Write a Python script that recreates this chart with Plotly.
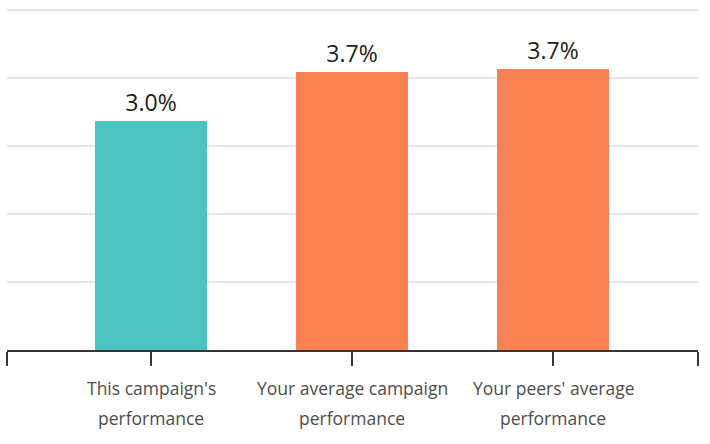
import plotly.graph_objects as go

# Campaign comparison data
categories = ["This campaign's performance",
              "Your average campaign performance",
              "Your peers' average performance"]
values = [3.02, 3.66, 3.70]
bar_colors = ["#4bc4c1", "#f98152", "#f98152"]

x_pos = list(range(len(categories)))

fig = go.Figure()
fig.add_trace(go.Bar(
    x=x_pos,
    y=values,
    width=0.562,
    marker=dict(color=bar_colors, line=dict(width=0)),
    texttemplate="%{y:.1f}%",
    textposition="outside",
    textfont=dict(size=23, color="#222222"),
    cliponaxis=False,
    hoverinfo="skip",
))

# two-line category labels, drawn as annotations for the wide line spacing
for x, label in zip(x_pos, categories):
    first, second = label.rsplit(" ", 1)
    for text, shift in ((first, -38), (second, -68)):
        fig.add_annotation(
            x=x, xref="x", y=0, yref="paper",
            text=text, showarrow=False,
            yanchor="middle", yshift=shift,
            font=dict(size=17.5, color="#4d4d4d"),
        )

fig.update_layout(
    width=710,
    height=444,
    margin=dict(l=7, r=12, t=5, b=94),
    plot_bgcolor="white",
    paper_bgcolor="white",
    font=dict(family="Open Sans", color="#222222"),
    showlegend=False,
    bargap=0,
)
fig.update_xaxes(
    range=[-0.7164, 2.7214],
    tickvals=[-0.714] + x_pos + [2.719],
    showticklabels=False,
    ticks="outside",
    ticklen=14,
    tickwidth=1.5,
    tickcolor="#3a3434",
    showline=True,
    linecolor="#3a3434",
    linewidth=1.5,
    showgrid=False,
    zeroline=False,
)
fig.update_yaxes(
    range=[0, 4.54],
    tick0=0,
    dtick=0.895,
    showticklabels=False,
    showgrid=True,
    gridcolor="#e6e6e6",
    gridwidth=1.5,
    zeroline=False,
)

fig.write_html("out.html", config={"displayModeBar": False},
               post_script="document.body.style.margin='0';")
